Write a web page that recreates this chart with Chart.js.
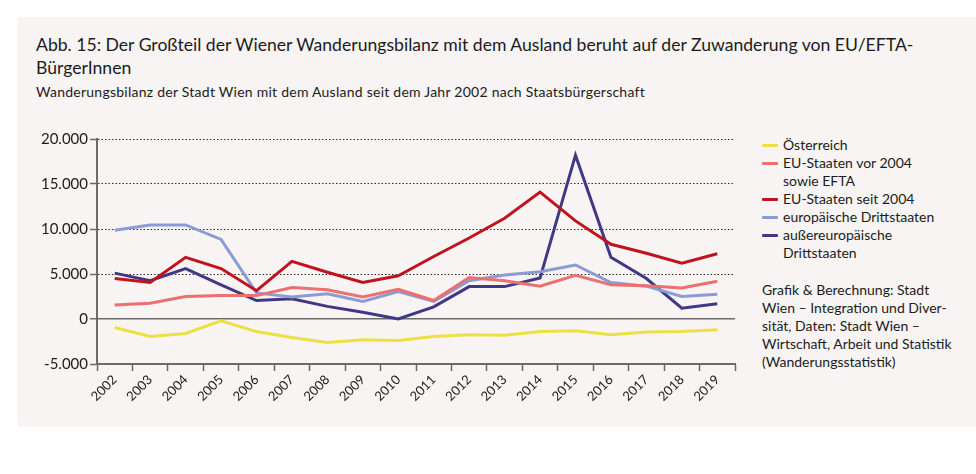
<!DOCTYPE html>
<html>
<head>
<meta charset="utf-8">
<script src="https://cdn.jsdelivr.net/npm/chart.js@4"></script>
<style>
  html, body { margin: 0; padding: 0; background: #ffffff; }
  body { width: 976px; height: 474px; position: relative; overflow: hidden; font-family: Lato, "Open Sans", sans-serif; color: #1c1c1c; }
  #panel { position: absolute; left: 18px; top: 17px; width: 958px; height: 410px; background: #f7f4f3; }
  #title { position: absolute; left: 36px; top: 33px; font-size: 17.6px; line-height: 23px; white-space: nowrap; }
  #subtitle { position: absolute; left: 36px; top: 83px; font-size: 14px; letter-spacing: 0.25px; line-height: 17px; white-space: nowrap; }
  #wrap { position: absolute; left: 20px; top: 120px; width: 720px; height: 300px; }
  #legend { position: absolute; left: 762px; top: 136px; font-size: 14px; line-height: 18px; }
  .item { position: relative; padding-left: 21px; }
  .sw { position: absolute; left: 0; top: 8px; width: 16px; height: 3px; border-radius: 1px; }
  #source { position: absolute; left: 762px; top: 281px; font-size: 14px; line-height: 18px; }
</style>
</head>
<body>
<div id="panel"></div>
<div id="title">Abb. 15: Der Großteil der Wiener Wanderungsbilanz mit dem Ausland beruht auf der Zuwanderung von EU/EFTA-<br>BürgerInnen</div>
<div id="subtitle">Wanderungsbilanz der Stadt Wien mit dem Ausland seit dem Jahr 2002 nach Staatsbürgerschaft</div>
<div id="wrap"><canvas id="c" width="720" height="300"></canvas></div>
<div id="legend"></div>
<div id="source">Grafik &amp; Berechnung: Stadt<br>Wien – Integration und Diver-<br>sität, Daten: Stadt Wien –<br>Wirtschaft, Arbeit und Statistik<br>(Wanderungsstatistik)</div>
<script>
const years = ['2002','2003','2004','2005','2006','2007','2008','2009','2010','2011','2012','2013','2014','2015','2016','2017','2018','2019'];
const oesterreich = [-950,-1950,-1600,-200,-1400,-2050,-2600,-2300,-2400,-1950,-1750,-1800,-1400,-1300,-1750,-1450,-1400,-1200];
const euVor2004 = [1550,1750,2500,2600,2600,3500,3250,2450,3300,2050,4600,4250,3650,4850,3800,3700,3450,4200];
const euSeit2004 = [4500,4050,6850,5600,3150,6400,5200,4050,4800,6950,9000,11200,14100,10900,8300,7300,6200,7250];
const euDritt = [9850,10450,10450,8850,2900,2450,2800,1950,3050,1950,4250,4900,5250,6000,4050,3650,2500,2750];
const aussereu = [5100,4250,5600,3800,2050,2250,1400,750,0,1350,3600,3600,4550,18200,6850,4500,1200,1700];
const yTicks = [-5000, 0, 5000, 10000, 15000, 20000];

const seriesNames = [['Österreich'], ['EU-Staaten vor 2004', 'sowie EFTA'], ['EU-Staaten seit 2004'], ['europäische Drittstaaten'], ['außereuropäische', 'Drittstaaten']];
const seriesData = [oesterreich, euVor2004, euSeit2004, euDritt, aussereu];
const colors = ['#ede043', '#ec7070', '#c0131d', '#8b9bd3', '#3f3985'];

const fmt = v => v.toLocaleString('de-DE');

const datasets = seriesData.map((d, i) => ({
  label: seriesNames[i].join(' '),
  data: d,
  borderColor: colors[i],
  backgroundColor: colors[i],
  borderWidth: 3,
  pointRadius: 0,
  tension: 0,
  fill: false,
  order: i === 2 ? 0 : 1
}));

// HTML legend
const leg = document.getElementById('legend');
seriesNames.forEach((n, i) => {
  const div = document.createElement('div');
  div.className = 'item';
  div.innerHTML = '<span class="sw" style="background:' + colors[i] + '"></span>' + n.join('<br>');
  leg.appendChild(div);
});

new Chart(document.getElementById('c'), {
  type: 'line',
  data: { labels: years, datasets: datasets },
  options: {
    responsive: false,
    animation: false,
    layout: { padding: { top: 19, right: 5, left: 0, bottom: 0 } },
    plugins: { legend: { display: false }, tooltip: { enabled: false } },
    scales: {
      x: {
        offset: true,
        grid: { offset: true, drawOnChartArea: false, drawTicks: true, tickLength: 7, tickColor: '#6b6b6b', tickWidth: 1.5 },
        border: { display: true, color: '#6b6b6b', width: 2 },
        ticks: { minRotation: 45, maxRotation: 45, autoSkip: false, padding: 1, color: '#1c1c1c', font: { family: 'Lato', size: 13 } },
        afterFit: s => { s.height = 56; }
      },
      y: {
        min: -5000, max: 20000,
        afterBuildTicks: s => { s.ticks = yTicks.map(v => ({ value: v })); },
        grid: {
          drawTicks: true, tickLength: 7, tickColor: '#6b6b6b', tickWidth: 1.5,
          color: ctx => ctx.tick && ctx.tick.value === -5000 ? 'rgba(0,0,0,0)' : (ctx.tick && ctx.tick.value === 0 ? '#6b6b6b' : '#2a2a2a'),
          lineWidth: ctx => ctx.tick && ctx.tick.value === 0 ? 1.5 : 1
        },
        border: {
          display: true, color: '#6b6b6b', width: 2,
          dash: ctx => (ctx.tick && ctx.tick.value > 0) ? [1.5, 2] : []
        },
        ticks: { padding: 2, color: '#1c1c1c', font: { family: 'Lato', size: 15 }, callback: v => fmt(v) },
        afterFit: s => { s.width = 77; }
      }
    }
  }
});
</script>
</body>
</html>
